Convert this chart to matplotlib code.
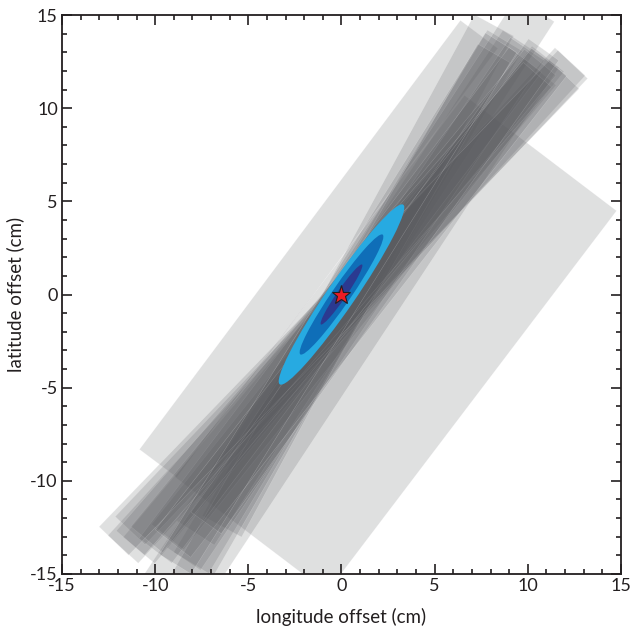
import numpy as np
import matplotlib
matplotlib.use("Agg")
import matplotlib.pyplot as plt
from matplotlib.patches import Polygon, Ellipse

plt.rcParams['font.family'] = ['Lato', 'DejaVu Sans']
plt.rcParams['axes.unicode_minus'] = False

# Gray measurement bands: angle (deg), perpendicular offset of centre line (cm),
# along-band start / end (cm), band width (cm)
band_angle  = [52.8, 53.2, 56.6, 61.5, 59.0, 57.0, 50.0, 47.5, 51.5, 46.5, 56.0, 60.0, 53.0, 50.5, 49.0, 46.0, 54.5, 52.0, 58.0]
band_offset = [3.92, -2.45, 1.23, 0.3, 0.5, 0.4, 0.5, 0.6, 0.8, 0.5, 0.9, 0.6, 0.3, 0.3, 0.2, 0.4, 1.2, 1.1, 0.1]
band_start  = [-13.2, -13.15, -19.5, -14.0, -16.5, -15.0, -17.5, -18.0, -16.0, -17.0, -16.5, -18.0, -17.0, -16.8, -17.5, -18.0, -14.2, -16.1, -17.0]
band_end    = [12.5, 15.6, 16.6, 16.6, 16.2, 18.5, 16.0, 17.5, 16.8, 17.5, 16.5, 15.3, 16.0, 16.4, 15.8, 16.8, 17.0, 16.7, 16.0]
band_width  = [10.24, 2.5, 3.6, 2.4, 2.2, 2.4, 2.2, 2.2, 2.2, 2.2, 2.2, 2.0, 2.2, 2.2, 2.0, 2.2, 2.0, 2.4, 2.0]

# Position estimate uncertainty ellipse (3, 2, 1 sigma)
ell_angle = 55.5
sigma_major = 1.95
sigma_minor = 0.25
sigma_levels = [3, 2, 1]
ell_colors = ['#27aae1', '#0f6eb8', '#2b3990']

true_x, true_y = [0.0], [0.0]

fig = plt.figure(figsize=(6.34, 6.33), dpi=100)
ax = fig.add_axes([62 / 634, 1 - 574 / 633, 559 / 634, 559 / 633])

for th, d, s0, s1, w in zip(band_angle, band_offset, band_start, band_end, band_width):
    t = np.deg2rad(th)
    u = np.array([np.cos(t), np.sin(t)])
    n = np.array([np.sin(t), -np.cos(t)])
    corners = [s0 * u + (d - w / 2) * n, s1 * u + (d - w / 2) * n,
               s1 * u + (d + w / 2) * n, s0 * u + (d + w / 2) * n]
    ax.add_patch(Polygon(corners, closed=True, facecolor=(0.353, 0.357, 0.373, 0.19),
                         edgecolor=(1, 1, 1, 0.3), linewidth=0.3, zorder=1))

for lev, col in zip(sigma_levels, ell_colors):
    ax.add_patch(Ellipse((0, 0), 2 * lev * sigma_major, 2 * lev * sigma_minor,
                         angle=ell_angle, facecolor=col, edgecolor='none', zorder=2))

ax.plot(true_x, true_y, marker='*', markersize=14, markerfacecolor='#ed1c24',
        markeredgecolor='#231f20', markeredgewidth=0.8, linestyle='none', zorder=3)

ax.set_xlim(-15, 15)
ax.set_ylim(-15, 15)
ax.set_xticks([-15, -10, -5, 0, 5, 10, 15])
ax.set_yticks([-15, -10, -5, 0, 5, 10, 15])
ax.set_xticks(np.arange(-15, 16, 1), minor=True)
ax.set_yticks(np.arange(-15, 16, 1), minor=True)
ax.tick_params(which='both', direction='in', top=True, right=True,
               labelsize=13, colors='#231f20', width=1.2)
ax.tick_params(which='major', length=7.5, pad=3)
ax.tick_params(which='minor', length=3.8)
for sp in ax.spines.values():
    sp.set_linewidth(1.3)
    sp.set_color('#231f20')

ax.set_xlabel('longitude offset (cm)', fontsize=13.5, color='#231f20', labelpad=10)
ax.set_ylabel('latitude offset (cm)', fontsize=13.5, color='#231f20', labelpad=4)

fig.savefig('out.png', dpi=100)
